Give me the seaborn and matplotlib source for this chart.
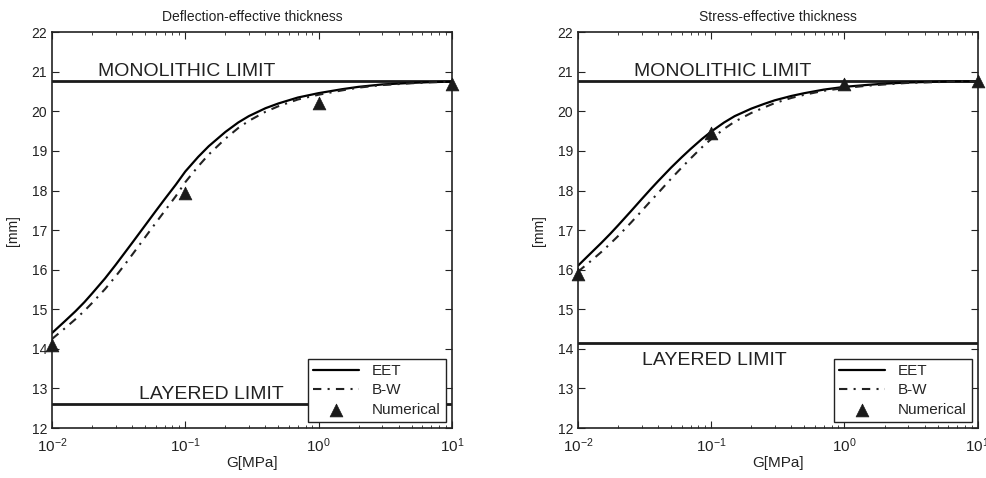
import numpy as np
import pandas as pd
import matplotlib
matplotlib.use("Agg")
import matplotlib.pyplot as plt
import matplotlib.ticker as mticker
import seaborn as sns

# ==========================
# Data
# ==========================
g_mpa = [0.01, 0.0125, 0.015, 0.0175, 0.02, 0.025, 0.03, 0.035, 0.04, 0.05,
         0.06, 0.07, 0.085, 0.1, 0.125, 0.15, 0.2, 0.25, 0.3, 0.4,
         0.5, 0.7, 1.0, 1.5, 2.0, 3.0, 5.0, 7.0, 10.0]

defl_eet = [14.40, 14.70, 14.95, 15.18, 15.40, 15.78, 16.12, 16.42, 16.68, 17.12,
            17.48, 17.78, 18.15, 18.48, 18.85, 19.12, 19.48, 19.72, 19.88, 20.08,
            20.20, 20.35, 20.46, 20.56, 20.62, 20.68, 20.72, 20.74, 20.75]
defl_bw = [14.25, 14.52, 14.75, 14.96, 15.16, 15.51, 15.83, 16.12, 16.38, 16.82,
           17.18, 17.48, 17.86, 18.21, 18.61, 18.91, 19.31, 19.58, 19.76, 19.99,
           20.13, 20.30, 20.42, 20.53, 20.60, 20.665, 20.71, 20.735, 20.75]

stress_eet = [16.10, 16.42, 16.68, 16.91, 17.12, 17.48, 17.78, 18.03, 18.24, 18.58,
              18.84, 19.05, 19.30, 19.49, 19.72, 19.88, 20.07, 20.19, 20.28, 20.39,
              20.46, 20.55, 20.62, 20.67, 20.70, 20.73, 20.75, 20.76, 20.76]
stress_bw = [15.95, 16.22, 16.45, 16.66, 16.85, 17.19, 17.48, 17.73, 17.94, 18.30,
             18.58, 18.81, 19.09, 19.30, 19.56, 19.74, 19.96, 20.10, 20.21, 20.34,
             20.42, 20.52, 20.59, 20.65, 20.68, 20.72, 20.74, 20.755, 20.76]

num_g = [0.01, 0.1, 1.0, 10.0]
defl_num = [14.1, 17.95, 20.2, 20.7]
stress_num = [15.9, 19.45, 20.7, 20.78]

monolithic = 20.77
defl_layered = 12.6
stress_layered = 14.15

titles = ["Deflection-effective thickness", "Stress-effective thickness"]

# ==========================
# Style
# ==========================
sns.set_theme(style="ticks")
plt.rcParams["font.family"] = ["Liberation Sans", "DejaVu Sans"]
plt.rcParams["mathtext.fontset"] = "custom"
plt.rcParams["mathtext.rm"] = "Liberation Sans"
plt.rcParams["mathtext.it"] = "Liberation Sans"
plt.rcParams["axes.linewidth"] = 1.2
plt.rcParams["axes.edgecolor"] = "#222222"

fig = plt.figure(figsize=(9.87, 4.78), dpi=100)
ax_left = fig.add_axes([0.0527, 0.1046, 0.405, 0.828])
ax_right = fig.add_axes([0.5856, 0.1046, 0.405, 0.828])

# label anchors (x, baseline y)
panels = [
    (ax_left, defl_eet, defl_bw, defl_num, defl_layered, (0.022, 20.90), (0.045, 12.73)),
    (ax_right, stress_eet, stress_bw, stress_num, stress_layered, (0.0263, 20.90), (0.030, 13.59)),
]

for i, (ax, eet, bw, num, layered, mono_pos, lay_pos) in enumerate(panels):
    df = pd.DataFrame({"G": g_mpa, "EET": eet, "BW": bw})
    ndf = pd.DataFrame({"G": num_g, "Num": num})

    ax.axhline(monolithic, color="#1a1a1a", linewidth=2.0, zorder=1)
    ax.axhline(layered, color="#1a1a1a", linewidth=2.0, zorder=1)

    sns.lineplot(data=df, x="G", y="EET", ax=ax, color="black",
                 linewidth=1.6, label="EET")
    sns.lineplot(data=df, x="G", y="BW", ax=ax, color="#222222",
                 linewidth=1.5, linestyle=(0, (4, 3, 1, 3)), label="B-W")
    sns.scatterplot(data=ndf, x="G", y="Num", ax=ax, color="#1a1a1a",
                    marker="^", s=85, edgecolor="#1a1a1a", linewidth=0.5,
                    label="Numerical", clip_on=False, zorder=5)

    ax.set_xscale("log")
    ax.set_xlim(0.01, 10)
    ax.set_ylim(12, 22)
    ax.set_yticks(range(12, 23))
    ax.xaxis.set_major_locator(mticker.LogLocator(base=10, numticks=10))
    ax.xaxis.set_major_formatter(mticker.LogFormatterSciNotation())
    ax.xaxis.set_minor_locator(mticker.LogLocator(base=10, subs=np.arange(2, 10), numticks=20))
    ax.xaxis.set_minor_formatter(mticker.NullFormatter())

    ax.tick_params(which="both", direction="in", top=True, right=True,
                   colors="#222222", labelcolor="#222222")
    ax.tick_params(which="major", length=5, width=0.8, labelsize=10)
    ax.tick_params(which="minor", length=2.5, width=0.6)
    ax.tick_params(axis="x", which="major", pad=6, labelsize=11)

    ax.set_xlabel("G[MPa]", fontsize=11, labelpad=1, color="#222222")
    ax.set_ylabel("[mm]", fontsize=10, labelpad=8, color="#222222")
    ax.set_title(titles[i], fontsize=10, pad=8, color="#222222")

    ax.text(mono_pos[0], mono_pos[1], "MONOLITHIC LIMIT", fontsize=14,
            color="#222222", va="baseline", ha="left")
    ax.text(lay_pos[0], lay_pos[1], "LAYERED LIMIT", fontsize=14,
            color="#222222", va="baseline", ha="left")

    leg = ax.legend(loc="lower right", fontsize=11, frameon=True, fancybox=False,
                    edgecolor="#222222", framealpha=1, borderaxespad=0.4,
                    handlelength=3.0, labelspacing=0.35, borderpad=0.35)
    leg.get_frame().set_linewidth(1.0)
    for sp in ax.spines.values():
        sp.set_visible(True)

fig.savefig("out.png", dpi=100)
